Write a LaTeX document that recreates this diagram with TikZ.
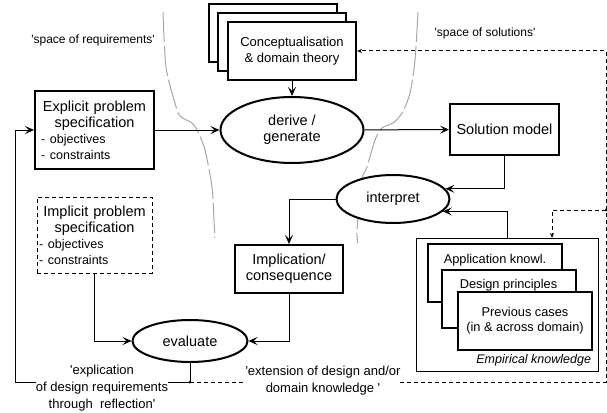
\documentclass[tikz,border=0pt]{standalone}
\usepackage{fontspec}
\setmainfont{Liberation Sans}
\usetikzlibrary{arrows.meta,shapes.geometric}
\newcommand{\qmark}{\textquotesingle}

\begin{document}
\begin{tikzpicture}[x=1pt, y=-1pt, line width=1pt, >={Stealth[length=9pt,width=8pt,inset=4pt]}, every node/.style={inner sep=0pt}]
    \tikzstyle{block}=[rectangle, draw, line width=2pt, fill=white, font=\fontsize{14.5}{16}\selectfont, align=center]
    \tikzstyle{stack}=[block, minimum width=128pt, minimum height=58pt, font=\fontsize{13}{16}\selectfont]
    \tikzstyle{knowl}=[block, minimum width=134pt, minimum height=58pt, font=\fontsize{12.8}{15}\selectfont]
    \tikzstyle{action}=[ellipse, draw, line width=2pt, fill=white, font=\fontsize{14.5}{16}\selectfont, align=center]
    \tikzstyle{annot}=[font=\fontsize{12}{14}\selectfont]
    \tikzstyle{flow}=[fill=white, font=\fontsize{13}{17}\selectfont, align=center]
    \tikzstyle{border}=[draw=gray!70, dash pattern=on 30pt off 4pt]
    \tikzstyle{feedback}=[dash pattern=on 4pt off 3pt]

    \useasboundingbox (0,0) rectangle (607,412);

    % Border between the two spaces
    \draw[border] plot[smooth] coordinates {(163,12) (166,67) (175,103) (180,116) (192,123) (198,132) (205,150) (212,187) (214,220) (215,238)};
    \draw[border] plot[smooth] coordinates {(418,12) (415,60) (410,93) (402,113) (393,123) (382,128) (375,140) (367,167) (362,180) (357,230) (358,243)};

    \node[annot] (req) at (93,40) {\qmark space of requirements\qmark};
    \node[annot] (sol) at (485,33) {\qmark space of solutions\qmark};

    % Theory stack
    \node[stack] (theory-3) at (273,33) {};
    \node[stack] (theory-2) at (282,42) {};
    \node[stack] (theory) at (292,51) {Conceptualisation\\\& domain theory};

    % Problem specifications
    \node[block, text width=107pt, align=left, inner xsep=6pt, minimum height=78pt] (explicit) at (94.5,130)
        {{\centering Explicit problem\\ specification\par}\fontsize{12.5}{16}\selectfont - objectives\\ - constraints};
    \node[block, feedback, line width=1pt, text width=111pt, align=left, inner xsep=2pt, minimum height=76pt] (implicit) at (94.5,235)
        {{\centering Implicit problem\\ specification\par}\fontsize{12.5}{16}\selectfont - objectives\\ - constraints};

    % Processes
    \node[action, minimum width=143pt, minimum height=66pt] (derive) at (292,130) {derive /\\generate};
    \node[action, minimum width=113pt, minimum height=48pt] (interpret) at (393,199) {interpret};
    \node[action, minimum width=115pt, minimum height=42pt] (evaluate) at (190,341) {evaluate};

    % Results
    \node[block, minimum width=109pt, minimum height=51pt] (solution) at (504.5,129.5) {Solution model};
    \node[block, minimum width=108pt, minimum height=48pt] (implication) at (289,269) {Implication/\\consequence};

    % Empirical knowledge
    \node[draw, minimum width=182pt, minimum height=133pt,
          label={[anchor=base east, xshift=-7pt, yshift=8.5pt, font=\fontsize{12.5}{15}\selectfont\itshape]south east:Empirical knowledge}] (empirical) at (507,304.5) {};
    \node[knowl, text height=10pt, text depth=30pt] (app) at (495,273) {Application knowl.};
    \node[knowl, text height=10pt, text depth=32pt] (design) at (508.5,299) {Design principles};
    \node[knowl] (cases) at (525,321) {Previous cases\\(in \& across domain)};

    % Main flow
    \draw[->] (explicit) -- (derive);
    \draw[->] (theory) -- (derive);
    \draw[->] (derive) -- (solution);
    \draw[->] (solution.south) |- (interpret.11);
    \draw[->] (empirical.north) |- (interpret.-14);
    \draw[->] (interpret.west) -| (implication.north);
    \draw[->] (implication.south) |- (evaluate.east);
    \draw[->] (implicit.south) |- (evaluate.west);

    % Feedback
    \coordinate (fb) at (190,382);
    \coordinate (fb-left) at (15,382);
    \coordinate (fb-right) at (606,382);
    \coordinate (emp-split) at (606,210);
    \coordinate (emp-in) at (552,238);

    \draw (evaluate) -- (fb);
    \draw[->] (fb) -- (fb-left) |- (explicit.west);
    \draw[feedback, -{Stealth[length=5pt,width=4pt]}] (fb) -- (fb-right) |- (theory.east);
    \draw[feedback, -{Stealth[length=5pt,width=4pt]}] (emp-split) -| (emp-in);
    \fill (fb) circle (1.5);
    \fill (emp-split) circle (1.5);

    \node[flow] (explication) at (102,388) {\qmark explication\\of design requirements\\through\ \ reflection\qmark};
    \node[flow] (extension) at (323,381) {\qmark extension of design and/or\\domain knowledge \qmark};

\end{tikzpicture}
\end{document}
